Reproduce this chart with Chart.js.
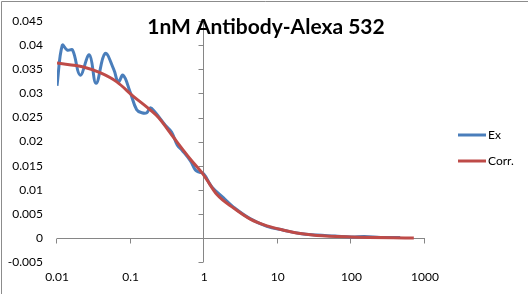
<!DOCTYPE html>
<html>
<head>
<meta charset="utf-8">
<script src="https://cdn.jsdelivr.net/npm/chart.js"></script>
<style>
  html, body { margin: 0; padding: 0; background: #fff; }
  canvas { display: block; }
</style>
</head>
<body>
<canvas id="chart1" width="528" height="294"></canvas>
<script>
const titleText = '1nM Antibody-Alexa 532';
const seriesNames = ['Ex', 'Corr.'];

// Ex (measured, noisy)
const exX = [0.01, 0.0118, 0.0138, 0.0163, 0.0206, 0.0275, 0.034, 0.045, 0.059, 0.068, 0.079, 0.098, 0.121, 0.142, 0.166, 0.184, 0.21, 0.3, 0.36, 0.43, 0.5, 0.65, 0.76, 0.84, 0.98, 1.27, 1.83, 2.5, 4.2, 7.1, 12, 20, 34, 60, 100, 150, 250, 460];
const exY = [0.0316, 0.0400, 0.0390, 0.0390, 0.0338, 0.0380, 0.0321, 0.0383, 0.0350, 0.0324, 0.0338, 0.0304, 0.0266, 0.0260, 0.0260, 0.0270, 0.0263, 0.0233, 0.0220, 0.0193, 0.0182, 0.0160, 0.0141, 0.0137, 0.0133, 0.0106, 0.0083, 0.0064, 0.0040, 0.0024, 0.0016, 0.0009, 0.0006, 0.0004, 0.0002, 0.0003, 0.0001, 0.0001];

// Corr. (fitted, smooth)
const corrX = [0.01, 0.0228, 0.0385, 0.0649, 0.109, 0.184, 0.239, 0.382, 0.645, 0.98, 1.49, 2.51, 4.23, 7.13, 12, 20.2, 34, 100, 705];
const corrY = [0.0363, 0.0355, 0.0343, 0.0324, 0.0294, 0.0266, 0.0250, 0.0209, 0.0164, 0.0131, 0.0090, 0.0062, 0.0039, 0.0025, 0.0016, 0.0009, 0.0005, 0.0002, 0.0000];

const xTicks = [0.01, 0.1, 1, 10, 100, 1000];
const yMin = -0.005, yMax = 0.045, yStep = 0.005;

const toPoints = (xs, ys) => xs.map((x, i) => ({ x, y: ys[i] }));

// axes crossing at x=1 / y=0, chart border, title and legend
const excelLook = {
  id: 'excelLook',
  beforeDatasetsDraw(chart) {
    const { ctx, chartArea: a, scales: { x, y } } = chart;
    const ax = Math.round(x.getPixelForValue(1)) - 0.5;
    const ay = Math.round(y.getPixelForValue(0)) + 0.5;
    ctx.save();
    ctx.strokeStyle = '#868686';
    ctx.lineWidth = 1;
    ctx.beginPath();
    ctx.moveTo(ax, a.top);
    ctx.lineTo(ax, a.bottom);
    y.ticks.forEach(t => {
      const py = Math.round(y.getPixelForValue(t.value)) + 0.5;
      ctx.moveTo(ax - 5, py);
      ctx.lineTo(ax, py);
    });
    ctx.moveTo(a.left, ay);
    ctx.lineTo(a.right, ay);
    xTicks.forEach(v => {
      const px = Math.round(x.getPixelForValue(v)) - 0.5;
      ctx.moveTo(px, ay);
      ctx.lineTo(px, ay + 5);
    });
    ctx.stroke();
    // chart area border
    ctx.strokeStyle = '#8c8c8c';
    ctx.beginPath();
    ctx.moveTo(1.5, chart.height + 2);
    ctx.lineTo(1.5, 1.5);
    ctx.lineTo(chart.width + 2, 1.5);
    ctx.stroke();
    ctx.restore();
  },
  afterDraw(chart) {
    const { ctx } = chart;
    ctx.save();
    ctx.fillStyle = '#000';
    ctx.font = 'bold 21px Lato';
    ctx.textAlign = 'center';
    ctx.textBaseline = 'middle';
    ctx.fillText(titleText, 266, 27);
    ctx.font = '12px Lato';
    ctx.textAlign = 'left';
    chart.data.datasets.forEach((ds, i) => {
      const ly = 135 + i * 26;
      ctx.strokeStyle = ds.borderColor;
      ctx.lineWidth = 3;
      ctx.beginPath();
      ctx.moveTo(458, ly);
      ctx.lineTo(486, ly);
      ctx.stroke();
      ctx.fillText(ds.label, 488, ly);
    });
    ctx.restore();
  }
};

new Chart(document.getElementById('chart1'), {
  type: 'line',
  data: {
    datasets: [
      {
        label: seriesNames[0],
        data: toPoints(exX, exY),
        borderColor: '#4A7EBB',
        borderWidth: 3,
        pointRadius: 0,
        tension: 0.4,
        order: 1,
      },
      {
        label: seriesNames[1],
        data: toPoints(corrX, corrY),
        borderColor: '#BE4B48',
        borderWidth: 3,
        pointRadius: 0,
        cubicInterpolationMode: 'monotone',
        order: 0,
      },
    ],
  },
  options: {
    responsive: false,
    animation: false,
    layout: { padding: { top: 16, right: 103, bottom: 0, left: 0 } },
    plugins: {
      legend: { display: false },
      title: { display: false },
      tooltip: { enabled: false },
    },
    scales: {
      x: {
        type: 'logarithmic',
        min: 0.01,
        max: 1000,
        grid: { display: false, drawTicks: false },
        border: { display: false },
        afterBuildTicks: s => { s.ticks = xTicks.map(v => ({ value: v })); },
        afterFit: s => { s.height = 32; },
        ticks: {
          color: '#000',
          font: { family: 'Lato', size: 12 },
          padding: 8,
          autoSkip: false,
          maxRotation: 0,
          callback: v => String(v),
        },
      },
      y: {
        min: yMin,
        max: yMax,
        grid: { display: false, drawTicks: false },
        border: { display: false },
        afterFit: s => { s.width = 57; },
        ticks: {
          color: '#000',
          font: { family: 'Lato', size: 12 },
          padding: 14,
          stepSize: yStep,
          callback: v => String(parseFloat(v.toFixed(3))),
        },
      },
    },
  },
  plugins: [excelLook],
});
</script>
</body>
</html>
